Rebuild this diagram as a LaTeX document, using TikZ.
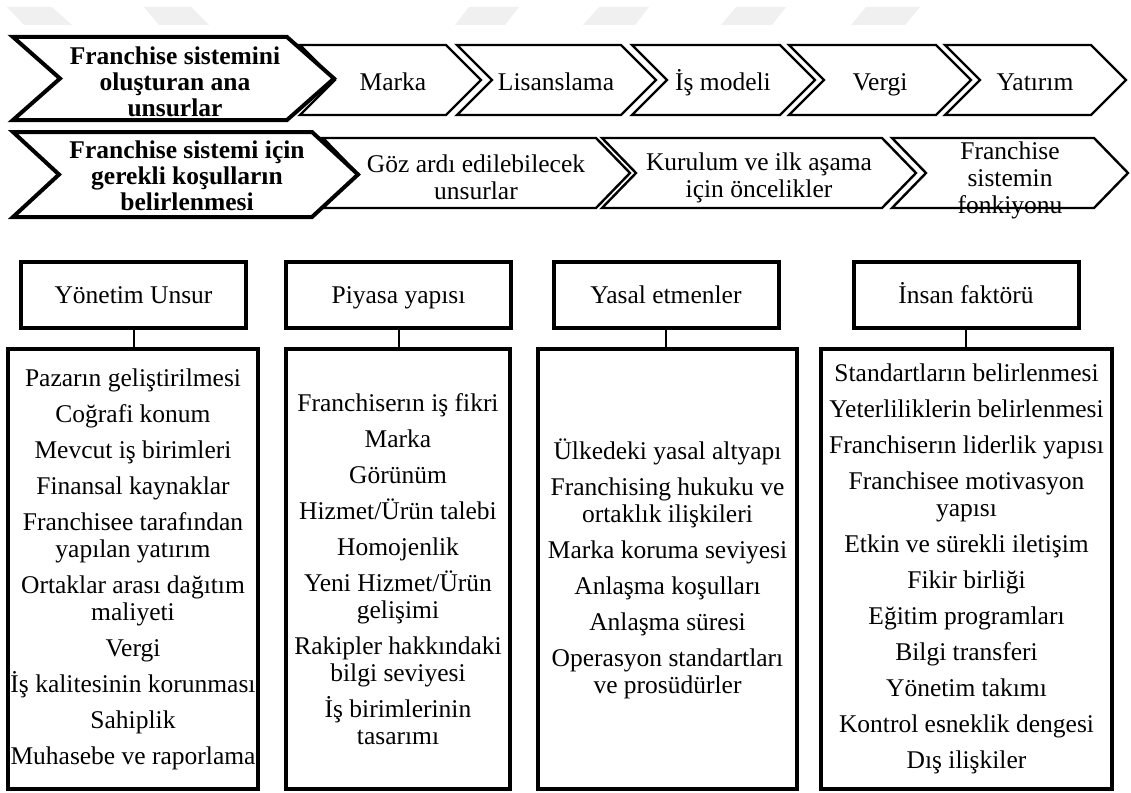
\documentclass[tikz,border=0pt]{standalone}
\usepackage{fontspec}
\setmainfont{Liberation Serif}[BoldFont={Liberation Serif Bold}]

% chevron outline: [style]{left x}{right x}{top y}{bottom y}{point depth}
\newcommand\chevshape[6][]{%
  \path[#1] (#2,#4) -- (#3,#4) -- ({#3+#6},{(#4+#5)/2}) -- (#3,#5)
    -- (#2,#5) -- ({#2+#6},{(#4+#5)/2}) -- cycle;}

\begin{document}
\begin{tikzpicture}[x=1pt,y=-1pt,
  leadchev/.style={draw=black,line width=4pt,fill=white},
  stagechev/.style={draw=black,line width=2.4pt,fill=white},
  leadtext/.style={font=\fontsize{25.5}{26}\selectfont\bfseries,align=center,inner sep=0pt},
  stagetext/.style={font=\fontsize{25.5}{27}\selectfont,align=center,inner sep=0pt},
  oneline/.style={font=\fontsize{25.5}{27}\selectfont,inner sep=0pt,anchor=base},
  headbox/.style={draw=black,line width=4pt,fill=white,minimum width=225pt,minimum height=66pt,
    inner sep=0pt},
  listbox/.style={draw=black,line width=3.5pt,fill=white,minimum height=440pt,inner sep=0pt,
    align=center,font=\fontsize{25.5}{27}\selectfont},
  link/.style={draw=black,line width=2pt}
]
\useasboundingbox (0,0) rectangle (1131,792);

% faint watermark bars along the top edge
\fill[gray!12] (7,7) -- (52,7) -- (72,25) -- (24,25) -- cycle;
\fill[gray!12] (144,7) -- (191,7) -- (209,25) -- (159,25) -- cycle;
\fill[gray!12] (469,7) -- (519,7) -- (505,25) -- (455,25) -- cycle;
\fill[gray!12] (599,7) -- (649,7) -- (635,25) -- (583,25) -- cycle;
\fill[gray!12] (736,7) -- (786,7) -- (772,25) -- (721,25) -- cycle;
\fill[gray!12] (866,7) -- (920,7) -- (905,25) -- (851,25) -- cycle;

% first row of chevrons
\chevshape[stagechev]{300}{446}{45}{115}{35}
\chevshape[stagechev]{457}{621}{45}{115}{35}
\chevshape[stagechev]{632}{780}{45}{115}{35}
\chevshape[stagechev]{789}{936}{45}{115}{35}
\chevshape[stagechev]{945}{1091}{45}{115}{35}
\chevshape[leadchev]{13}{287}{37}{120}{47}

\node[leadtext] (lead1) at (175,82) {Franchise sistemini\\oluşturan ana\\unsurlar};
\node[oneline] (marka) at (393,90) {Marka};
\node[oneline] (lisans) at (556,90) {Lisanslama};
\node[oneline] (ismodel) at (723,90) {İş modeli};
\node[oneline] (vergi) at (880,90) {Vergi};
\node[oneline] (yatirim) at (1035,90) {Yatırım};

% second row of chevrons
\chevshape[stagechev]{323}{596}{138}{208}{34}
\chevshape[stagechev]{602}{882}{138}{208}{34}
\chevshape[stagechev]{892}{1094}{138}{208}{34}
\chevshape[leadchev]{13}{312}{132}{217}{46}

\node[leadtext] (lead2) at (187,176) {Franchise sistemi için\\gerekli koşulların\\belirlenmesi};
\node[stagetext] (goz) at (476,177) {Göz ardı edilebilecek\\unsurlar};
\node[stagetext] (kurulum) at (759,178) {Kurulum ve ilk aşama\\için öncelikler};
\node[stagetext] (fonk) at (1010,180) {Franchise\\sistemin\\fonkiyonu};

% category headers
\node[headbox] (h1) at (133.5,294.5) {};
\node[headbox] (h2) at (398.5,294.5) {};
\node[headbox] (h3) at (666,294.5) {};
\node[headbox] (h4) at (966,294.5) {};
\node[oneline] (t1) at (133.5,303) {Yönetim Unsur};
\node[oneline] (t2) at (398.5,303) {Piyasa yapısı};
\node[oneline] (t3) at (666,303) {Yasal etmenler};
\node[oneline] (t4) at (966,303) {İnsan faktörü};

% item lists
\node[listbox,minimum width=250pt] (l1) at (133,569) {%
  Pazarın geliştirilmesi\\[9pt]Coğrafi konum\\[9pt]Mevcut iş birimleri\\[9pt]%
  Finansal kaynaklar\\[9pt]Franchisee tarafından\\yapılan yatırım\\[9pt]%
  Ortaklar arası dağıtım\\maliyeti\\[9pt]Vergi\\[9pt]İş kalitesinin korunması\\[9pt]%
  Sahiplik\\[9pt]Muhasebe ve raporlama};
\node[listbox,minimum width=224pt] (l2) at (398,569) {%
  Franchiserın iş fikri\\[9pt]Marka\\[9pt]Görünüm\\[9pt]Hizmet/Ürün talebi\\[9pt]%
  Homojenlik\\[9pt]Yeni Hizmet/Ürün\\gelişimi\\[9pt]Rakipler hakkındaki\\bilgi seviyesi\\[9pt]%
  İş birimlerinin\\tasarımı};
\node[listbox,minimum width=259pt] (l3) at (667.5,569) {%
  Ülkedeki yasal altyapı\\[9pt]Franchising hukuku ve\\ortaklık ilişkileri\\[9pt]%
  Marka koruma seviyesi\\[9pt]Anlaşma koşulları\\[9pt]Anlaşma süresi\\[9pt]%
  Operasyon standartları\\ve prosüdürler};
\node[listbox,minimum width=291pt] (l4) at (966.5,569) {%
  Standartların belirlenmesi\\[9pt]Yeterliliklerin belirlenmesi\\[9pt]%
  Franchiserın liderlik yapısı\\[9pt]Franchisee motivasyon\\yapısı\\[9pt]%
  Etkin ve sürekli iletişim\\[9pt]Fikir birliği\\[9pt]Eğitim programları\\[9pt]%
  Bilgi transferi\\[9pt]Yönetim takımı\\[9pt]Kontrol esneklik dengesi\\[9pt]Dış ilişkiler};

% header-to-list links
\draw[link] (h1.south) -- (h1.south |- l1.north);
\draw[link] (h2.south) -- (h2.south |- l2.north);
\draw[link] (h3.south) -- (h3.south |- l3.north);
\draw[link] (h4.south) -- (h4.south |- l4.north);
\end{tikzpicture}
\end{document}
